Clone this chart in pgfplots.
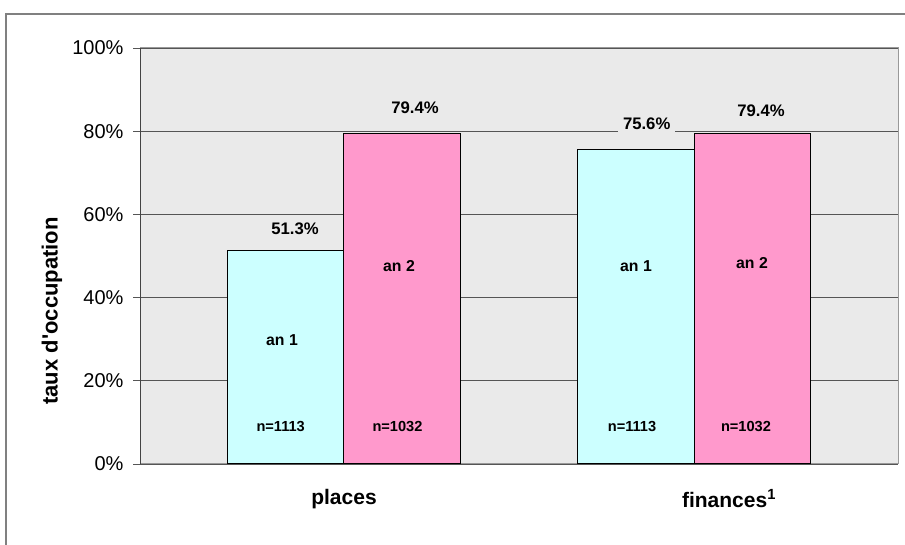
\documentclass[border=0pt]{standalone}
\usepackage{pgfplots}
\pgfplotsset{compat=1.18}
\usepackage{fontspec}
\setmainfont{Liberation Sans}
\definecolor{bggray}{HTML}{EAEAEA}
\definecolor{cyanbar}{HTML}{CCFFFF}
\definecolor{pinkbar}{HTML}{FF99CC}
\definecolor{gridc}{HTML}{555555}
\definecolor{borderc}{HTML}{999999}
\definecolor{framec}{HTML}{808080}
\newcommand{\fs}[1]{\fontsize{#1}{#1}\selectfont}
\begin{document}
\begin{tikzpicture}[x=1pt,y=1pt]
\useasboundingbox (0,0) rectangle (905,545);
\draw[framec, line width=1.2pt] (6,-2) -- (6,531) -- (907,531);
\begin{axis}[
  at={(140pt,81pt)}, anchor=south west,
  scale only axis, width=758pt, height=416pt,
  xmin=140, xmax=898, ymin=0, ymax=100,
  enlargelimits=false,
  axis background/.style={fill=bggray},
  axis line style={draw=borderc, line width=1pt},
  ymajorgrids, major grid style={draw=gridc, line width=0.9pt},
  ytick={0,20,40,60,80,100},
  yticklabels={0\%,20\%,40\%,60\%,80\%,100\%},
  yticklabel style={font=\fs{20}, text=black, xshift=-6pt},
  tick align=outside, major tick length=7pt,
  ytick pos=left,
  major tick style={draw=gridc, line width=0.9pt},
  xtick={344,729},
  xticklabels={places, finances\textsuperscript{1}},
  xticklabel style={font=\bfseries\fs{21}, text=black, yshift=-15pt},
  major x tick style={draw=none},
  clip=false,
]
\addplot[ybar, bar width=116.5pt, bar shift=0pt, fill=cyanbar, draw=black, line width=1pt]
  coordinates {(285.8,51.3) (636.0,75.6)};
\addplot[ybar, bar width=116.5pt, bar shift=0pt, fill=pinkbar, draw=black, line width=1pt]
  coordinates {(402.2,79.4) (752.6,79.4)};
\draw[gridc!80!black, line width=1pt] (rel axis cs:0,0) -- (rel axis cs:0,1);
\begin{scope}[every node/.style={font=\bfseries\fs{16.7}, inner sep=5pt}]
\node[fill=bggray] at (axis cs:295,56.5) {51.3\%};
\node[fill=bggray] at (axis cs:415,85.6) {79.4\%};
\node[fill=bggray] at (axis cs:646.7,81.8) {75.6\%};
\node[fill=bggray] at (axis cs:761,85.0) {79.4\%};
\end{scope}
\begin{scope}[every node/.style={font=\bfseries\fs{15.8}, inner sep=0pt}]
\node at (axis cs:282,29.8) {an 1};
\node at (axis cs:399,47.6) {an 2};
\node at (axis cs:636,47.6) {an 1};
\node at (axis cs:752,48.3) {an 2};
\end{scope}
\begin{scope}[every node/.style={font=\bfseries\fs{14.6}, inner sep=0pt}]
\node at (axis cs:280.7,9.0) {n=1113};
\node at (axis cs:397.5,9.0) {n=1032};
\node at (axis cs:632,9.0) {n=1113};
\node at (axis cs:746,9.0) {n=1032};
\end{scope}
\end{axis}
\node[rotate=90, font=\bfseries\fs{22}, inner sep=0pt] at (52,234) {taux d\textquotesingle occupation};
\end{tikzpicture}
\end{document}
